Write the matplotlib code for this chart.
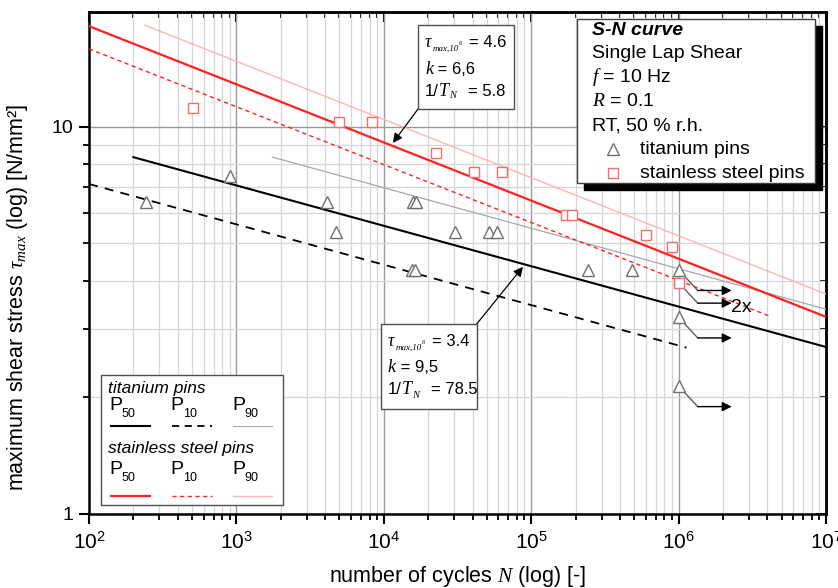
import numpy as np
import matplotlib
matplotlib.use('Agg')
import matplotlib.pyplot as plt
from matplotlib.patches import Rectangle
from matplotlib.lines import Line2D
from matplotlib.ticker import LogLocator, NullFormatter, FixedLocator, FixedFormatter

plt.rcParams['font.family'] = 'Liberation Sans'
plt.rcParams['mathtext.fontset'] = 'custom'
plt.rcParams['mathtext.rm'] = 'Liberation Sans'
plt.rcParams['mathtext.it'] = 'Liberation Serif:italic'
plt.rcParams['mathtext.bf'] = 'Liberation Sans:bold'

# titanium pins, test results
ti_N = [244, 906, 4120, 4740, 15900, 16600, 15600, 16200, 30400, 51800, 58600, 243000, 483000]
ti_tau = [6.41, 7.48, 6.41, 5.34, 6.41, 6.41, 4.27, 4.27, 5.34, 5.34, 5.34, 4.27, 4.27]
ti_runout_N = [1e6, 1e6, 1e6]
ti_runout_tau = [4.27, 3.22, 2.14]

# stainless steel pins, test results
ss_N = [506, 4970, 8360, 22700, 41100, 63100, 171000, 190000, 598000, 902000]
ss_tau = [11.2, 10.3, 10.3, 8.55, 7.66, 7.66, 5.93, 5.93, 5.27, 4.90]
ss_runout_N = [1e6]
ss_runout_tau = [3.96]

# fitted S-N lines (end points)
ti_p50_N, ti_p50_tau = [200, 1e7], [8.35, 2.70]
ti_p10_N, ti_p10_tau = [100, 1.13e6], [7.12, 2.69]
ti_p90_N, ti_p90_tau = [1760, 1e7], [8.35, 3.38]
ss_p50_N, ss_p50_tau = [100, 1e7], [18.2, 3.23]
ss_p10_N, ss_p10_tau = [100, 4.27e6], [15.9, 3.23]
ss_p90_N, ss_p90_tau = [240, 1e7], [18.3, 3.70]

# fit parameters shown in the boxes
ss_fit = ['4.6', '6,6', '5.8']
ti_fit = ['3.4', '9,5', '78.5']

x_ticks = [1e2, 1e3, 1e4, 1e5, 1e6, 1e7]
x_labels = ['$10^2$', '$10^3$', '$10^4$', '$10^5$', '$10^6$', '$10^7$']
y_ticks = [1, 10]
y_labels = ['1', '10']

RED = '#ff2020'
PINK = '#ffb4b4'
SQ = '#f07070'
TRI = '#707070'
SERIF = 'Liberation Serif'

fig = plt.figure(figsize=(8.38, 5.88), dpi=100)
ax = fig.add_axes([89/838, 1 - 514/588, 737/838, 502/588])
ax.set_xscale('log')
ax.set_yscale('log')
ax.set_xlim(1e2, 1e7)
ax.set_ylim(1, 19.8)

ax.grid(which='major', color='#9a9a9a', lw=1.0, zorder=0)
ax.grid(which='minor', color='#d6d6d6', lw=0.9, zorder=0)

# lines
ax.plot(ti_p50_N, ti_p50_tau, color='black', lw=1.5, zorder=3)
ax.plot(ti_p10_N, ti_p10_tau, color='black', lw=1.3, ls=(0, (5, 4)), zorder=3)
ax.plot(ti_p90_N, ti_p90_tau, color='#a8a8a8', lw=0.9, zorder=3)
ax.plot(ss_p50_N, ss_p50_tau, color=RED, lw=1.6, zorder=3)
ax.plot(ss_p10_N, ss_p10_tau, color=RED, lw=1.0, ls=(0, (3, 2.5)), zorder=3)
ax.plot(ss_p90_N, ss_p90_tau, color=PINK, lw=1.0, zorder=3)

# points
ax.plot(ti_N, ti_tau, ls='none', marker='^', ms=8, mfc='white', mec=TRI, mew=1.0, zorder=5)
ax.plot(ti_runout_N, ti_runout_tau, ls='none', marker='^', ms=8, mfc='white', mec=TRI, mew=1.0, zorder=5)
ax.plot(ss_N, ss_tau, ls='none', marker='s', ms=7, mfc='white', mec=SQ, mew=1.0, zorder=5)
ax.plot(ss_runout_N, ss_runout_tau, ls='none', marker='s', ms=7, mfc='white', mec=SQ, mew=1.0, zorder=5)

# runout arrows
for n, t in zip(ti_runout_N + ss_runout_N, ti_runout_tau + ss_runout_tau):
    mid = n * 10**0.13
    low = t * 0.885
    ax.plot([n, mid], [t, low], color='#606060', lw=1.0, zorder=4)
    ax.annotate('', xy=(n * 10**0.36, low), xytext=(mid, low),
                arrowprops=dict(arrowstyle='-|>', color='black', lw=1.0,
                                mutation_scale=14, shrinkA=0, shrinkB=0), zorder=4)
ax.text(2.25e6, 3.41, '2x', fontsize=14, va='center', ha='left', zorder=6)

# ticks
ax.xaxis.set_major_locator(FixedLocator(x_ticks))
ax.xaxis.set_major_formatter(FixedFormatter(x_labels))
ax.xaxis.set_minor_locator(LogLocator(base=10, subs=np.arange(2, 10), numticks=20))
ax.xaxis.set_minor_formatter(NullFormatter())
ax.yaxis.set_major_locator(FixedLocator(y_ticks))
ax.yaxis.set_major_formatter(FixedFormatter(y_labels))
ax.yaxis.set_minor_locator(LogLocator(base=10, subs=np.arange(2, 10), numticks=20))
ax.yaxis.set_minor_formatter(NullFormatter())
ax.tick_params(which='major', direction='out', length=7, width=1.5, labelsize=14, pad=4)
ax.tick_params(axis='x', which='major', labelsize=15, pad=6)
ax.tick_params(which='minor', direction='out', length=4, width=1.3)
for s in ax.spines.values():
    s.set_linewidth(1.8)

sec_x = ax.secondary_xaxis('top')
sec_x.xaxis.set_major_locator(FixedLocator(x_ticks))
sec_x.xaxis.set_minor_locator(LogLocator(base=10, subs=np.arange(2, 10), numticks=20))
sec_x.tick_params(which='major', direction='in', length=7, width=1.5, labeltop=False)
sec_x.tick_params(which='minor', direction='in', length=4, width=1.3)
sec_y = ax.secondary_yaxis('right')
sec_y.yaxis.set_major_locator(FixedLocator(y_ticks))
sec_y.yaxis.set_minor_locator(LogLocator(base=10, subs=np.arange(2, 10), numticks=20))
sec_y.tick_params(which='major', direction='in', length=7, width=1.5, labelright=False)
sec_y.tick_params(which='minor', direction='in', length=4, width=1.3)
for s in list(sec_x.spines.values()) + list(sec_y.spines.values()):
    s.set_linewidth(1.8)

ax.set_xlabel('number of cycles $N$ (log) [-]', fontsize=15.5)
ax.xaxis.set_label_coords(0.5, -0.1)
ax.set_ylabel(r'maximum shear stress $\tau_{max}$ (log) [N/mm²]', fontsize=15.5)
ax.yaxis.set_label_coords(-0.08, 0.432)


# pixel -> axes fraction helpers for the decorations
def fx(px):
    return (px - 89) / 737


def fy(py):
    return (514 - py) / 502


def txt(px, py, s, **kw):
    kw.setdefault('fontsize', 12)
    kw.setdefault('va', 'center')
    kw.setdefault('zorder', 11)
    return ax.text(fx(px), fy(py), s, transform=ax.transAxes, **kw)


def fit_box(x0, y0, x1, y1, vals, corner, tip):
    ax.add_patch(Rectangle((fx(x0), fy(y1)), fx(x1) - fx(x0), fy(y0) - fy(y1), transform=ax.transAxes,
                           fc='white', ec='#505050', lw=1.0, zorder=10))
    cx, cy = corner
    ax.annotate('', xy=tip, xytext=(fx(cx), fy(cy)), textcoords='axes fraction',
                arrowprops=dict(arrowstyle='-|>', color='black', lw=0.9, mutation_scale=14,
                                shrinkA=0, shrinkB=0), zorder=9)
    lx = x0 + 7
    l1, l2, l3 = y0 + 17.5, y0 + 44, y0 + 66
    txt(lx, l1, 'τ', family=SERIF, style='italic', fontsize=13)
    txt(lx + 7.5, l1 + 6, 'max,10', family=SERIF, style='italic', fontsize=6.5)
    txt(lx + 34, l1 + 1, '6', family=SERIF, style='italic', fontsize=4.5)
    txt(lx + 44, l1, '= ' + vals[0])
    txt(lx, l2, 'k', family=SERIF, style='italic', fontsize=13)
    txt(lx + 8, l2, ' = ' + vals[1])
    txt(lx, l3, '1/', fontsize=12)
    txt(lx + 14, l3, 'T', family=SERIF, style='italic', fontsize=13)
    txt(lx + 24, l3 + 5, 'N', family=SERIF, style='italic', fontsize=7.5)
    txt(lx + 43, l3, '= ' + vals[2])


fit_box(418, 25, 514, 109, ss_fit, (418, 109), (11530, 9.09))
fit_box(380.7, 324, 476.7, 409.3, ti_fit, (476.7, 324), (87900, 4.35))

# top-right info box with shadow
bx0, bx1, by0, by1 = fx(576.7), fx(815), fy(183.3), fy(19.3)
ax.add_patch(Rectangle((bx0 + 7/737, by0 - 7/502), bx1 - bx0, by1 - by0, transform=ax.transAxes,
                       fc='black', ec='black', zorder=9))
ax.add_patch(Rectangle((bx0, by0), bx1 - bx0, by1 - by0, transform=ax.transAxes,
                       fc='white', ec='#404040', lw=1.0, zorder=10))
txt(591.7, 30.7, 'S-N curve', fontsize=14, fontweight='bold', style='italic')
txt(591.7, 53.3, 'Single Lap Shear', fontsize=14)
txt(591.7, 77.3, '$f$ = 10 Hz', fontsize=14)
txt(591.7, 101.7, '$R$ = 0.1', fontsize=14)
txt(591.7, 126, 'RT, 50 % r.h.', fontsize=14)
ax.plot([fx(612.7)], [fy(149)], transform=ax.transAxes, marker='^', ms=8, mfc='white', mec=TRI,
        mew=1.0, zorder=11, clip_on=False)
ax.plot([fx(612.7)], [fy(173.3)], transform=ax.transAxes, marker='s', ms=7, mfc='white', mec=SQ,
        mew=1.0, zorder=11, clip_on=False)
txt(640, 149, 'titanium pins', fontsize=14)
txt(640, 173.3, 'stainless steel pins', fontsize=14)

# bottom-left key for the lines
ax.add_patch(Rectangle((fx(100.7), fy(505)), fx(283.3) - fx(100.7), fy(375) - fy(505),
                       transform=ax.transAxes, fc='white', ec='#505050', lw=1.0, zorder=10))
txt(108, 388, 'titanium pins', fontsize=12.5, style='italic')
txt(108, 448, 'stainless steel pins', fontsize=12.5, style='italic')
key_x = [(110.7, 150), (171.7, 211.7), (233.3, 271.7)]
key_lab = ['50', '10', '90']
ti_styles = [dict(color='black', lw=1.5), dict(color='black', lw=1.3, ls=(0, (4, 3))),
             dict(color='#b0b0b0', lw=0.9)]
ss_styles = [dict(color=RED, lw=1.6), dict(color=RED, lw=1.0, ls=(0, (3, 2.5))),
             dict(color=PINK, lw=1.0)]
for (x0, x1), lab, st1, st2 in zip(key_x, key_lab, ti_styles, ss_styles):
    for yp, yl, st in [(405, 426, st1), (469, 496, st2)]:
        txt(x0 - 1, yp, 'P', fontsize=14)
        txt(x0 + 11, yp + 9, lab, fontsize=9)
        ax.add_line(Line2D([fx(x0), fx(x1)], [fy(yl), fy(yl)], transform=ax.transAxes, zorder=11, **st))

fig.savefig('out.png', dpi=100)
